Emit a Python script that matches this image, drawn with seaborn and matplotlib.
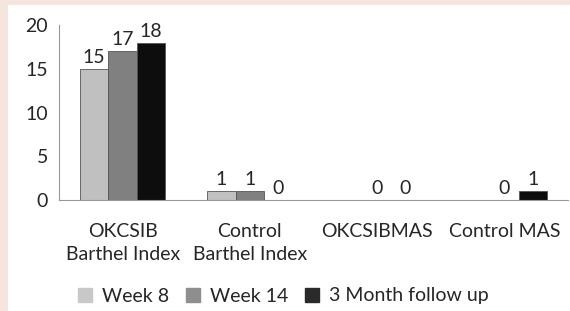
import matplotlib
matplotlib.use("Agg")
import matplotlib.pyplot as plt
import seaborn as sns
import pandas as pd
import numpy as np
from matplotlib.lines import Line2D
from matplotlib.patches import Rectangle

categories = ["OKCSIB\nBarthel Index", "Control\nBarthel Index", "OKCSIBMAS", "Control MAS"]
series = ["Week 8", "Week 14", "3 Month follow up"]
week8 = [15, 1, np.nan, np.nan]
week14 = [17, 1, 0, 0]
month3 = [18, 0, 0, 1]
colors = ["#c0c0c0", "#808080", "#0d0d0d"]
legend_colors = ["#c8c8c8", "#8e8e8e", "#2a2a2a"]
yticks = [0, 5, 10, 15, 20]

rows = []
for s, vals in zip(series, [week8, week14, month3]):
    for c, v in zip(categories, vals):
        rows.append({"category": c, "series": s, "value": v})
df = pd.DataFrame(rows)

sns.set_style("white")
plt.rcParams["font.family"] = ["Lato", "DejaVu Sans"]
TXT = "#262626"
FS = 14

fig = plt.figure(figsize=(5.7, 3.11), dpi=100, facecolor="#f6e5dc")
bg = fig.add_axes([8 / 570, 0, 1 - 8 / 570, 1 - 5 / 311], zorder=-10)
bg.set_axis_off()
bg.add_patch(Rectangle((0, 0), 1, 1, transform=bg.transAxes, facecolor="white", edgecolor="none"))

ax = fig.add_axes([59 / 570, (311 - 200) / 311, (568 - 59) / 570, (200 - 25) / 311])
ax.set_facecolor("none")

sns.barplot(data=df, x="category", y="value", hue="series", order=categories,
            hue_order=series, palette=colors, width=0.67, ax=ax, legend=False,
            edgecolor="#555555", linewidth=0.6, saturation=1)

ax.set_ylim(0, 20)
ax.set_xlim(-0.5, len(categories) - 0.5)
ax.set_yticks(yticks)
ax.set_yticklabels([str(t) for t in yticks], fontsize=FS, color=TXT)
ax.set_xlabel("")
ax.set_ylabel("")
ax.set_xticks(range(len(categories)))
ax.set_xticklabels(categories, fontsize=FS, color=TXT, linespacing=1.45)
ax.set_xticks(np.arange(-0.5, len(categories), 1.0), minor=True)
ax.tick_params(axis="x", which="major", length=0, pad=16.5)
ax.tick_params(axis="x", which="minor", length=5, color="#999999", direction="out")
ax.tick_params(axis="y", length=5, color="#999999", direction="out", pad=3)
for side in ["top", "right"]:
    ax.spines[side].set_visible(False)
ax.spines["left"].set_color("#999999")
ax.spines["bottom"].set_color("#999999")

# value labels
for bars, vals in zip(ax.containers, [week8, week14, month3]):
    for b, v in zip(bars, vals):
        if v is None or np.isnan(v):
            continue
        ax.annotate(f"{int(v)}", (b.get_x() + b.get_width() / 2, b.get_height()),
                    xytext=(0, 2), textcoords="offset points", ha="center", va="bottom",
                    fontsize=FS, color=TXT, annotation_clip=False)

handles = [Line2D([], [], marker="s", linestyle="none", markersize=9.5,
                  markerfacecolor=c, markeredgecolor=c) for c in legend_colors]
fig.legend(handles, series, loc="center", bbox_to_anchor=(283 / 570, 1 - 296 / 311),
           ncol=3, frameon=False, fontsize=FS, handlelength=0.8, handletextpad=0.45,
           columnspacing=0.85, labelcolor=TXT, borderpad=0)

fig.savefig("out.png", dpi=100, facecolor=fig.get_facecolor())
